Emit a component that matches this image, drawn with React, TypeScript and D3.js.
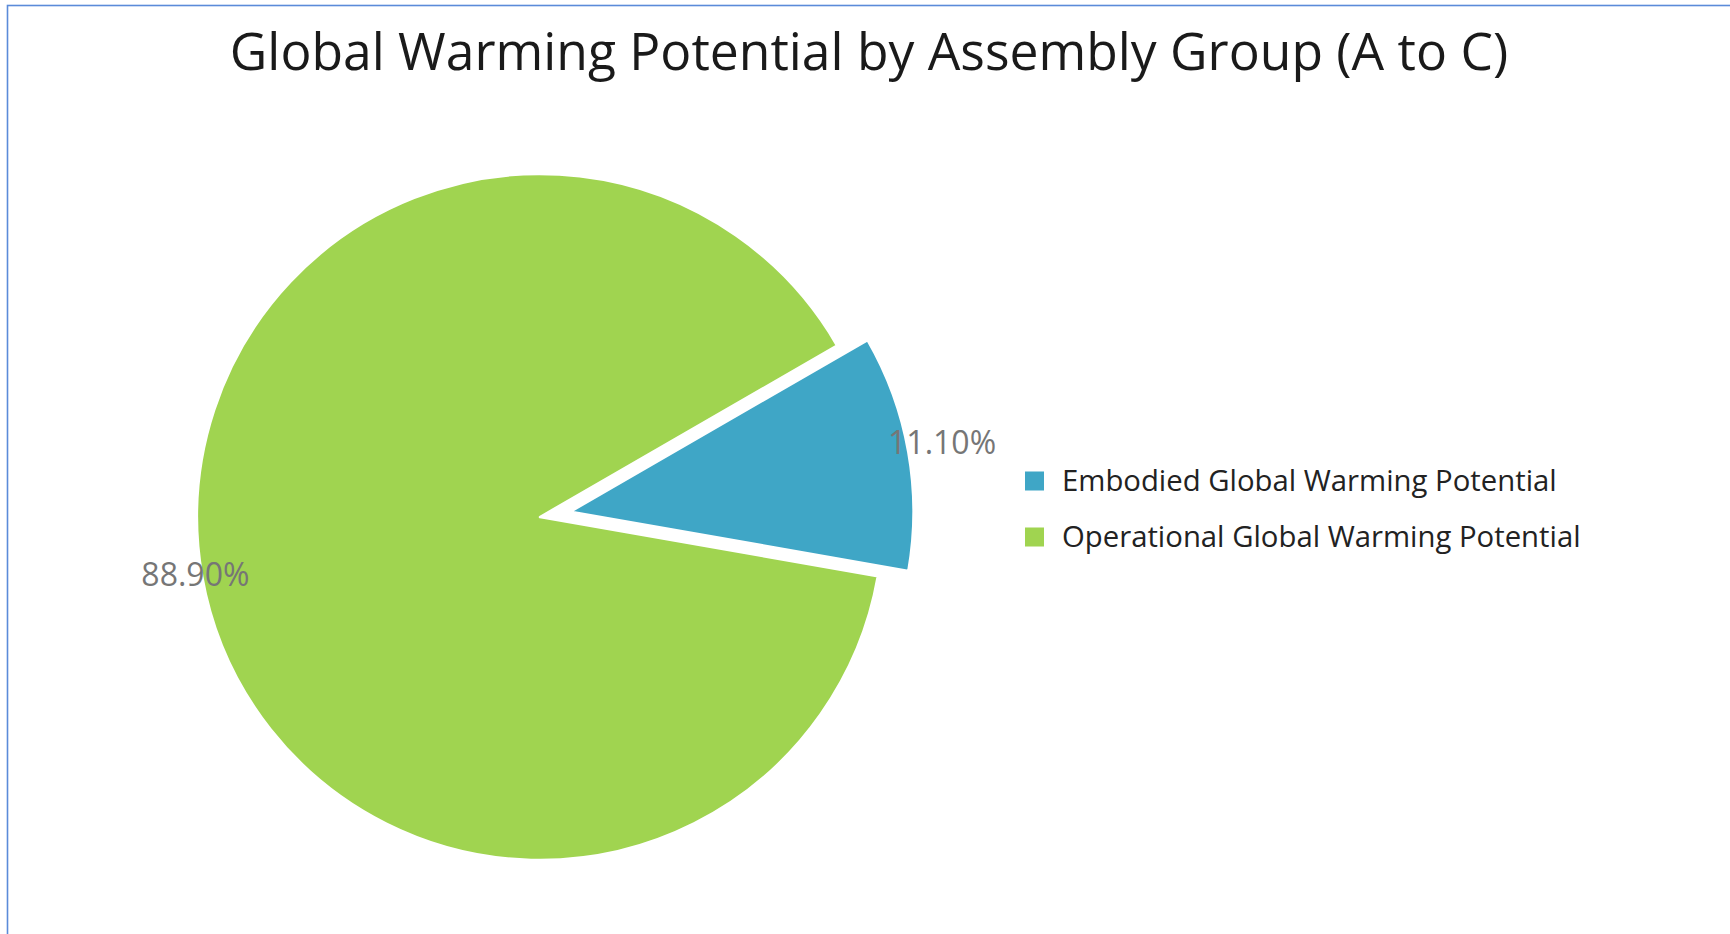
import React from "react";
import * as d3 from "d3";

const title = "Global Warming Potential by Assembly Group (A to C)";
const categories = ["Embodied Global Warming Potential", "Operational Global Warming Potential"];
const values = [11.1, 88.9];
const colors = ["#3FA6C6", "#A0D450"];
const explodedIndex = 0;

const W = 1730;
const H = 934;
const FONT = "'Open Sans', 'Noto Sans', sans-serif";

export default function App() {
  const cx = 540;
  const cy = 517;
  const r = 343;
  const explode = 31;

  const pie = d3
    .pie<number>()
    .sort(null)
    .value((d) => d)
    .startAngle(Math.PI / 3)
    .endAngle(Math.PI / 3 + 2 * Math.PI);
  const arcs = pie(values);
  const arc = d3.arc<d3.PieArcDatum<number>>().innerRadius(0).outerRadius(r);

  const color = d3.scaleOrdinal<string, string>().domain(categories).range(colors);
  const legendY = d3
    .scaleBand<string>()
    .domain(categories)
    .range([453, 565]);

  return (
    <svg
      width={W}
      height={H}
      style={{ position: "absolute", left: 0, top: 0, background: "#fff" }}
      fontFamily={FONT}
    >
      <rect x={7.5} y={5.5} width={W + 10} height={H + 10} fill="#fff" stroke="#5B8BD9" strokeWidth={1.6} />
      <text x={869} y={70} textAnchor="middle" fontSize={51.6} fill="#1a1a1a">
        {title}
      </text>
      <g transform={`translate(${cx},${cy})`}>
        {arcs.map((a, i) => {
          const mid = (a.startAngle + a.endAngle) / 2;
          const d = i === explodedIndex ? explode : 0;
          const ox = Math.sin(mid) * d;
          const oy = -Math.cos(mid) * d;
          return (
            <path
              key={i}
              d={arc(a) || ""}
              transform={`translate(${ox},${oy})`}
              fill={color(categories[i])}
              stroke="#fff"
              strokeWidth={2.5}
              strokeLinejoin="round"
            />
          );
        })}
        {arcs.map((a, i) => {
          const mid = (a.startAngle + a.endAngle) / 2;
          const d = i === explodedIndex ? explode : 0;
          const lr = i === explodedIndex ? r * 1.1 : r + 7;
          const x = Math.sin(mid) * (lr + d);
          const y = -Math.cos(mid) * (lr + d);
          return (
            <text
              key={"l" + i}
              x={x}
              y={y - 3}
              dy="0.35em"
              textAnchor="middle"
              fontSize={32}
              fill="#767676"
            >
              {values[i].toFixed(2)}%
            </text>
          );
        })}
      </g>
      <g>
        {categories.map((c) => {
          const y = (legendY(c) || 0) + legendY.bandwidth() / 2;
          return (
            <g key={c}>
              <rect x={1025} y={y - 9.5} width={19} height={19} fill={color(c)} />
              <text x={1062} y={y} dy="0.35em" fontSize={29.3} fill="#222">
                {c}
              </text>
            </g>
          );
        })}
      </g>
    </svg>
  );
}
